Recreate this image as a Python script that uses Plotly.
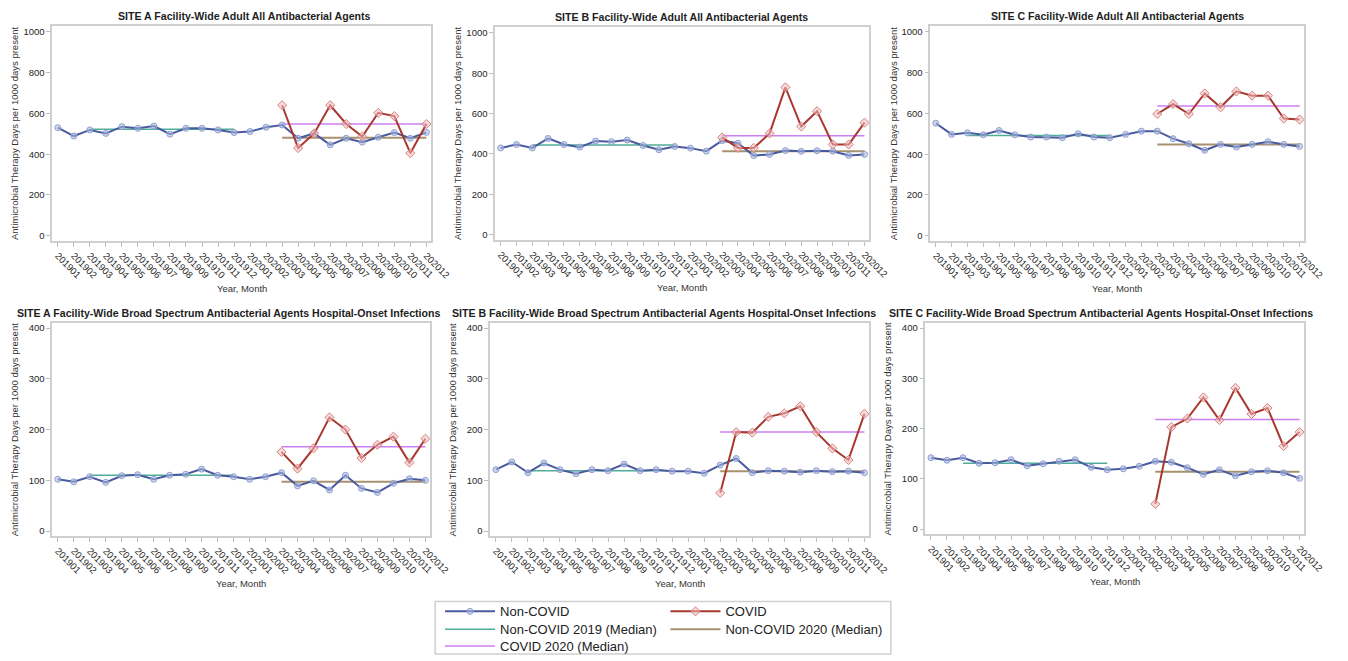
import plotly.graph_objects as go

months = ["201901", "201902", "201903", "201904", "201905", "201906", "201907", "201908",
          "201909", "201910", "201911", "201912", "202001", "202002", "202003", "202004",
          "202005", "202006", "202007", "202008", "202009", "202010", "202011", "202012"]
covid_months = months[14:]
months_2019 = months[2:12]

titles = [
    "SITE A Facility-Wide Adult All Antibacterial Agents",
    "SITE B Facility-Wide Adult All Antibacterial Agents",
    "SITE C Facility-Wide Adult All Antibacterial Agents",
    "SITE A Facility-Wide Broad Spectrum Antibacterial Agents Hospital-Onset Infections",
    "SITE B Facility-Wide Broad Spectrum Antibacterial Agents Hospital-Onset Infections",
    "SITE C Facility-Wide Broad Spectrum Antibacterial Agents Hospital-Onset Infections",
]

# Adult all antibacterial agents
a_all_non = [530, 489, 519, 502, 535, 527, 538, 498, 527, 527, 519, 506,
             511, 532, 543, 478, 502, 446, 478, 459, 483, 506, 478, 507]
a_all_cov = [640, 430, 502, 640, 548, 486, 603, 587, 405, 548]
b_all_non = [430, 447, 430, 477, 447, 434, 464, 461, 469, 442, 421, 437,
             429, 414, 466, 453, 392, 398, 417, 413, 416, 414, 393, 398]
b_all_cov = [482, 430, 430, 502, 730, 536, 612, 447, 447, 555]
c_all_non = [552, 497, 505, 495, 516, 495, 484, 484, 481, 500, 484, 481,
             497, 513, 513, 476, 451, 419, 448, 435, 448, 461, 448, 438]
c_all_cov = [597, 646, 597, 698, 630, 708, 687, 687, 575, 570]

# Broad spectrum, hospital-onset infections
a_bs_non = [102, 97, 107, 96, 109, 111, 102, 110, 112, 122, 110, 107,
            102, 107, 115, 89, 99, 81, 110, 84, 76, 94, 103, 100]
a_bs_cov = [156, 123, 163, 224, 200, 144, 170, 186, 135, 182]
b_bs_non = [121, 136, 115, 134, 121, 113, 121, 119, 132, 119, 121, 118,
            118, 114, 130, 143, 115, 119, 118, 116, 119, 117, 118, 115]
b_bs_cov = [75, 195, 194, 225, 232, 246, 195, 163, 140, 231]
c_bs_non = [142, 137, 142, 131, 132, 138, 126, 130, 135, 138, 123, 118,
            120, 125, 135, 133, 122, 109, 118, 106, 114, 116, 112, 101]
c_bs_cov = [50, 203, 220, 262, 217, 281, 229, 241, 165, 193]

# Medians: non-COVID 2019, non-COVID 2020, COVID 2020
median_non_2019 = [522, 445, 492, 110, 119, 131]
median_non_2020 = [481, 414, 448, 97, 118, 114]
median_cov_2020 = [548, 490, 636, 166, 195, 218]

non_covid = [a_all_non, b_all_non, c_all_non, a_bs_non, b_bs_non, c_bs_non]
covid = [a_all_cov, b_all_cov, c_all_cov, a_bs_cov, b_bs_cov, c_bs_cov]
y_ticks = [[0, 200, 400, 600, 800, 1000]] * 3 + [[0, 100, 200, 300, 400]] * 3
y_ranges = [[-25, 1030]] * 3 + [[-10, 410]] * 3

W, H = 1348, 661
# plot-area boxes in pixels: (left, right, top, bottom)
boxes = [(53, 438, 25, 242), (503, 883, 26, 241), (945, 1325, 25, 242),
         (53, 437, 325, 540), (498, 883, 325, 540), (940, 1325, 325, 538)]
# horizontal centres of the panel titles, in pixels
title_x = [248, 692, 1135, 232, 675, 1118]

BLUE_LINE = "#4a5a9e"
BLUE_MARK = "#8e9fd0"
RED_LINE = "#a8382f"
RED_MARK = "#d88080"
TEAL = "#4fae9a"
BROWN = "#a8916e"
PURPLE = "#cc7ff0"
FONT = "Liberation Sans, Arial, sans-serif"

fig = go.Figure()
layout = dict(width=W, height=H, margin=dict(l=0, r=0, t=0, b=0),
              paper_bgcolor="white", plot_bgcolor="white", showlegend=True,
              font=dict(family=FONT, color="#222222"))
annotations = []

for i in range(6):
    n = "" if i == 0 else str(i + 1)
    xa, ya = "x" + n, "y" + n
    first = i == 0
    left, right, top, bottom = boxes[i]
    layout["xaxis" + n] = dict(
        domain=[left / W, right / W], anchor=ya, type="category",
        categoryorder="array", categoryarray=months, range=[-0.35, 23.3],
        tickangle=45, tickfont=dict(size=9.5, color="#262626"),
        showline=True, mirror=True, linecolor="#cfcfcf", linewidth=1.5,
        ticks="outside", ticklen=4, tickcolor="#bdbdbd", showgrid=False, zeroline=False)
    layout["yaxis" + n] = dict(
        domain=[1 - bottom / H, 1 - top / H], anchor=xa, range=y_ranges[i],
        tickvals=y_ticks[i], tickfont=dict(size=9.5, color="#262626"),
        showline=True, mirror=True, linecolor="#cfcfcf", linewidth=1.5,
        ticks="outside", ticklen=4, tickcolor="#bdbdbd", showgrid=False, zeroline=False)

    fig.add_trace(go.Scatter(
        x=months_2019, y=[median_non_2019[i]] * len(months_2019), xaxis=xa, yaxis=ya,
        mode="lines", line=dict(color=TEAL, width=1.5), name="Non-COVID 2019 (Median)",
        legend="legend3", showlegend=first, hoverinfo="skip"))
    fig.add_trace(go.Scatter(
        x=covid_months, y=[median_non_2020[i]] * len(covid_months), xaxis=xa, yaxis=ya,
        mode="lines", line=dict(color=BROWN, width=2), name="Non-COVID 2020 (Median)",
        legend="legend4", showlegend=first, hoverinfo="skip"))
    fig.add_trace(go.Scatter(
        x=covid_months, y=[median_cov_2020[i]] * len(covid_months), xaxis=xa, yaxis=ya,
        mode="lines", line=dict(color=PURPLE, width=1.5), name="COVID 2020 (Median)",
        legend="legend5", showlegend=first, hoverinfo="skip"))
    fig.add_trace(go.Scatter(
        x=months, y=non_covid[i], xaxis=xa, yaxis=ya, mode="lines+markers",
        line=dict(color=BLUE_LINE, width=2),
        marker=dict(symbol="circle", size=6, color="rgba(170,185,225,0.55)",
                    line=dict(color=BLUE_MARK, width=1)),
        name="Non-COVID", legend="legend", showlegend=first))
    fig.add_trace(go.Scatter(
        x=covid_months, y=covid[i], xaxis=xa, yaxis=ya, mode="lines+markers",
        line=dict(color=RED_LINE, width=2),
        marker=dict(symbol="diamond", size=7, color="rgba(240,190,190,0.55)",
                    line=dict(color=RED_MARK, width=1)),
        name="COVID", legend="legend2", showlegend=first))

    cx = (left + right) / 2
    annotations.append(dict(text="<b>" + titles[i] + "</b>", x=title_x[i] / W,
                            y=1 - (top - 10) / H, xref="paper", yref="paper",
                            showarrow=False, font=dict(size=10.6, color="#1e1e1e"),
                            xanchor="center", yanchor="middle"))
    annotations.append(dict(text="Year, Month", x=cx / W, y=1 - (bottom + 48) / H,
                            xref="paper", yref="paper", showarrow=False,
                            font=dict(size=9.5, color="#333333"), xanchor="center",
                            yanchor="middle"))
    annotations.append(dict(text="Antimicrobial Therapy Days per 1000 days present",
                            x=(left - 38) / W, y=1 - (top + bottom) / 2 / H,
                            xref="paper", yref="paper", showarrow=False, textangle=-90,
                            font=dict(size=9.5, color="#333333"), xanchor="center",
                            yanchor="middle"))

# legend: two columns, three rows, one single-entry legend per slot
legend_common = dict(orientation="v", bgcolor="rgba(0,0,0,0)", borderwidth=0,
                     font=dict(size=13, family=FONT, color="#222222"),
                     xanchor="left", yanchor="middle", itemwidth=50)
col_x = [447, 676]
row_y = [616, 634, 651]
slots = {"legend": (0, 0), "legend2": (1, 0), "legend3": (0, 1),
         "legend4": (1, 1), "legend5": (0, 2)}
for key, (c, r) in slots.items():
    layout[key] = dict(x=col_x[c] / W, y=1 - row_y[r] / H, **legend_common)

layout["annotations"] = annotations
layout["shapes"] = [dict(type="rect", xref="paper", yref="paper",
                         x0=442 / W, x1=905 / W, y0=1 - 659 / H, y1=1 - 606 / H,
                         line=dict(color="#cfcfcf", width=1.5), fillcolor="rgba(0,0,0,0)")]

fig.update_layout(**layout)
fig.write_html("out.html")
